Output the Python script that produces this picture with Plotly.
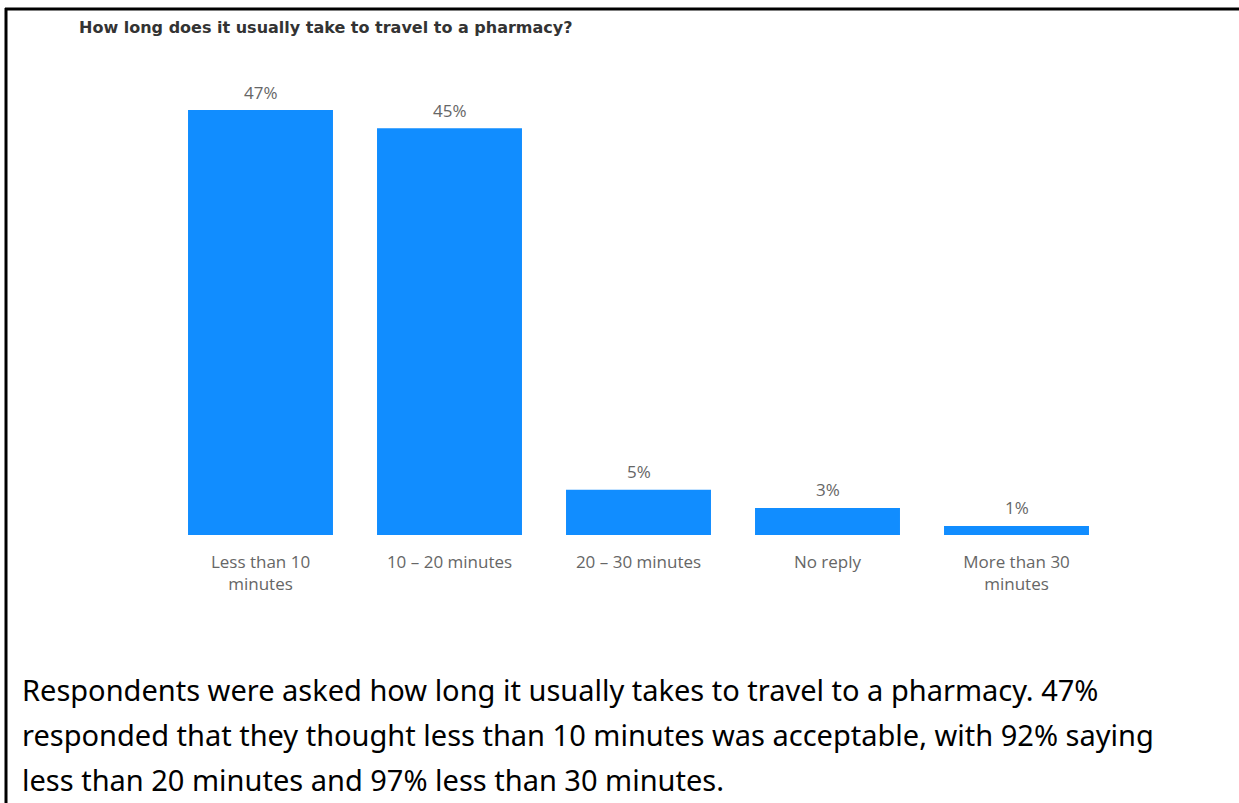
import plotly.graph_objects as go

categories = ["Less than 10<br>minutes", "10 – 20 minutes", "20 – 30 minutes", "No reply", "More than 30<br>minutes"]
values = [47, 45, 5, 3, 1]
value_labels = ["47%", "45%", "5%", "3%", "1%"]

title_text = "How long does it usually take to travel to a pharmacy?"
caption_lines = [
    "Respondents were asked how long it usually takes to travel to a pharmacy. 47%",
    "responded that they thought less than 10 minutes was acceptable, with 92% saying",
    "less than 20 minutes and 97% less than 30 minutes.",
]

W, H = 1239, 803
L, R, T, B = 166, 128, 80, 268
PW, PH = W - L - R, H - T - B

def px_x(px):
    return (px - L) / PW

def px_y(py):
    return (H - B - py) / PH

fig = go.Figure()
fig.add_trace(go.Bar(
    x=categories, y=values,
    marker=dict(color="#118DFF", line=dict(width=0)),
    width=0.767,
    hoverinfo="skip",
))

gray = "#666666"
font_ui = "Open Sans, Noto Sans, DejaVu Sans, sans-serif"

annotations = []
for c, v, t in zip(categories, values, value_labels):
    annotations.append(dict(x=c, y=v, xref="x", yref="y", text=t, showarrow=False,
                            yanchor="middle", yshift=18,
                            font=dict(family=font_ui, size=17, color=gray)))

annotations.append(dict(x=px_x(77), y=px_y(28), xref="paper", yref="paper",
                        text=title_text, showarrow=False, xanchor="left", yanchor="middle",
                        font=dict(family="DejaVu Sans, sans-serif", size=16, color="#333333",
                                  weight="bold")))

for i, line in enumerate(caption_lines):
    annotations.append(dict(x=px_x(20), y=px_y(689 + 45.5 * i), xref="paper", yref="paper",
                            text=line, showarrow=False, xanchor="left", yanchor="middle",
                            font=dict(family="Noto Sans, Open Sans, sans-serif", size=29, color="#000000")))

shapes = [
    dict(type="line", xref="paper", yref="paper", x0=px_x(5), x1=px_x(1239), y0=px_y(9), y1=px_y(9),
         line=dict(color="black", width=3)),
    dict(type="line", xref="paper", yref="paper", x0=px_x(6), x1=px_x(6), y0=px_y(8), y1=px_y(803),
         line=dict(color="black", width=3)),
]

fig.update_layout(
    width=W, height=H,
    margin=dict(l=L, r=R, t=T, b=B, autoexpand=False),
    paper_bgcolor="white", plot_bgcolor="white",
    showlegend=False,
    annotations=annotations,
    shapes=shapes,
    bargap=0.233,
    xaxis=dict(showgrid=False, zeroline=False, showline=False, ticks="",
               tickfont=dict(family=font_ui, size=17, color=gray), ticklabelstandoff=15),
    yaxis=dict(range=[0, PH / 9.04], visible=False, showgrid=False, zeroline=False),
)

page_js = (
    "var s=document.createElement('style');"
    "s.textContent='html,body{margin:0;padding:0;overflow:hidden;scrollbar-width:none;height:803px;}"
    "::-webkit-scrollbar{display:none;width:0;height:0;}';"
    "document.head.appendChild(s);"
)

fig.write_html("out.html", config={"displayModeBar": False}, post_script=page_js)
